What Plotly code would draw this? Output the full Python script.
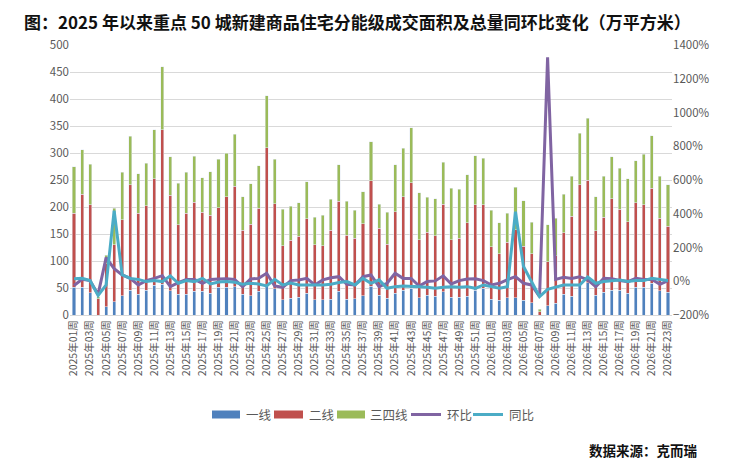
import plotly.graph_objects as go

weeks = [f"2025年{w:02d}周" for w in range(1, 53)] + [f"2026年{w:02d}周" for w in range(1, 24)]

tier1 = [51, 51, 41, 0, 15, 25, 36, 46, 38, 46, 55, 57, 45, 38, 38, 44, 44, 40, 51, 51,
         52, 38, 36, 44, 54, 49, 28, 31, 33, 40, 28, 28, 29, 44, 29, 30, 36, 53, 37, 31,
         40, 46, 50, 32, 37, 35, 43, 33, 33, 35, 46, 50, 29, 27, 32, 32, 27, 23, 0, 17,
         22, 38, 35, 55, 60, 37, 42, 46, 46, 40, 51, 51, 59, 45, 42]
total_12 = [188, 224, 204, 30, 95, 130, 176, 241, 188, 202, 252, 343, 222, 167, 188, 209, 190, 185, 199, 219,
            238, 157, 168, 198, 310, 206, 128, 138, 146, 178, 130, 128, 157, 211, 148, 142, 169, 249, 161, 131,
            191, 219, 245, 139, 153, 147, 205, 139, 142, 171, 204, 204, 126, 113, 135, 158, 127, 113, 6, 99,
            110, 152, 183, 241, 250, 156, 181, 215, 196, 173, 208, 204, 235, 179, 164]
total_all = [275, 306, 279, 34, 111, 198, 264, 331, 262, 281, 343, 460, 293, 244, 264, 294, 254, 265, 288, 300,
             335, 219, 243, 276, 406, 288, 196, 201, 208, 247, 181, 185, 214, 278, 211, 194, 228, 321, 205, 190,
             278, 309, 347, 226, 218, 215, 283, 235, 233, 260, 295, 290, 194, 171, 188, 237, 212, 172, 11, 167,
             179, 224, 257, 337, 364, 219, 257, 293, 272, 252, 286, 298, 332, 257, 241]

tier2 = [b - a for a, b in zip(tier1, total_12)]
tier34 = [b - a for a, b in zip(total_12, total_all)]

mom = [-25, 11, 4, -78, 140, 75, 38, 17, -22, 4, 17, 33, -32, -8, 11, 11, -12, 11, 13, 15,
       11, -32, 13, 17, 47, -28, -36, 4, 8, 17, -22, 8, 21, 27, -18, -22, 27, 37, -32, -12,
       47, 17, 17, -28, -2, 2, 32, -16, 4, 13, 15, 4, -22, -12, 10, 27, -12, -22, -91, 1327,
       11, 23, 17, 27, 8, -32, 17, 15, 4, -2, 17, 10, 11, -18, 4]
yoy = [15, 17, 4, -85, -22, 418, 38, 17, 11, -2, 4, -2, 32, -12, 4, -2, 17, -16, -4, -2,
       -6, -18, -12, -16, -28, 11, -22, -10, -22, -24, -22, -22, -18, -8, -2, -22, 17, -12, 8, -42,
       -32, -28, -28, -32, -36, -42, -36, -32, -36, -32, -42, -22, -32, -42, -32, 412, 87, -2, -91, -48,
       -36, -22, -22, -22, 25, -12, -2, 4, 8, -2, 4, 4, 17, 11, 4]

COLORS = {"一线": "#4F81BD", "二线": "#C0504D", "三四线": "#9BBB59", "环比": "#8064A2", "同比": "#4BACC6"}
FONT = "Noto Sans CJK SC"
GREY = "#595959"

fig = go.Figure()
fig.add_trace(go.Bar(x=weeks, y=tier1, name="一线", marker_color=COLORS["一线"]))
fig.add_trace(go.Bar(x=weeks, y=tier2, name="二线", marker_color=COLORS["二线"]))
fig.add_trace(go.Bar(x=weeks, y=tier34, name="三四线", marker_color=COLORS["三四线"]))
fig.add_trace(go.Scatter(x=weeks, y=mom, name="环比", mode="lines", yaxis="y2",
                         line=dict(color=COLORS["环比"], width=3)))
fig.add_trace(go.Scatter(x=weeks, y=yoy, name="同比", mode="lines", yaxis="y2",
                         line=dict(color=COLORS["同比"], width=3)))

# page body has an 8px margin, so the figure is 16px smaller and every
# position below is given in window pixels and shifted by OFF
OFF = 8
W, H = 740 - 2 * OFF, 467 - 2 * OFF
L, R, T, B = 70 - OFF, W - (672 - OFF), 45 - OFF, 12
ph = H - T - B
pw = W - L - R


def py(pix):
    return (H - B - (pix - OFF)) / ph


def px(pix):
    return (pix - OFF - L) / pw


# hand-made legend: wide swatches for bars, short strokes for lines
shapes = []
annotations = []
legend_items = [("一线", 212, 240, 244, "bar"), ("二线", 274, 303, 307, "bar"),
                ("三四线", 337, 365, 368, "bar"), ("环比", 411, 441, 445, "line"),
                ("同比", 473, 503, 507, "line")]
ly = 414.5
for name, x0, x1, tx, kind in legend_items:
    if kind == "bar":
        shapes.append(dict(type="rect", xref="paper", yref="paper",
                           x0=px(x0), x1=px(x1), y0=py(ly + 4), y1=py(ly - 4),
                           fillcolor=COLORS[name], line=dict(width=0)))
    else:
        shapes.append(dict(type="line", xref="paper", yref="paper",
                           x0=px(x0), x1=px(x1), y0=py(ly), y1=py(ly),
                           line=dict(color=COLORS[name], width=3)))
    annotations.append(dict(text=name, xref="paper", yref="paper", x=px(tx), y=py(ly),
                            xanchor="left", yanchor="middle", showarrow=False,
                            font=dict(family=FONT, size=12.5, color=GREY)))

# title as an annotation so it sits just below the top edge
annotations.append(dict(
    text="<b>图：2025 年以来重点 50 城新建商品住宅分能级成交面积及总量同环比变化（万平方米）</b>",
    xref="paper", yref="paper",
    x=px(22), xanchor="left", y=py(21), yanchor="middle",
    showarrow=False,
    font=dict(family=FONT, size=17, color="#111111"),
))

annotations.append(dict(
    text="<b>数据来源：克而瑞</b>",
    xref="paper", yref="paper",
    x=px(699), xanchor="right", y=py(449.5), yanchor="middle",
    showarrow=False,
    font=dict(family=FONT, size=13.5, color="#111111"),
))

tick_font = dict(family=FONT, size=11.5, color=GREY)

fig.update_layout(
    width=W,
    height=H,
    barmode="stack",
    bargap=0.62,
    showlegend=False,
    plot_bgcolor="white",
    paper_bgcolor="white",
    margin=dict(l=L, r=R, t=T, b=B),
    font=dict(family=FONT, color=GREY),
    xaxis=dict(
        type="category",
        tickmode="array",
        tickvals=weeks[::2],
        ticktext=weeks[::2],
        tickangle=-90,
        tickfont=dict(family=FONT, size=10.5, color=GREY),
        showline=True, linecolor="#D9D9D9", linewidth=1,
        showgrid=False, ticks="", automargin=False,
    ),
    yaxis=dict(
        domain=[py(315), 1],
        range=[0, 500], dtick=50,
        tickfont=tick_font,
        showgrid=True, gridcolor="#D9D9D9", gridwidth=1,
        zeroline=False, ticks="", automargin=False,
    ),
    yaxis2=dict(
        overlaying="y", side="right",
        range=[-200, 1400], dtick=200, ticksuffix="%",
        tickfont=tick_font,
        showgrid=False, zeroline=False, ticks="", automargin=False,
    ),
    shapes=shapes,
    annotations=annotations,
)

fig.write_html("out.html")
